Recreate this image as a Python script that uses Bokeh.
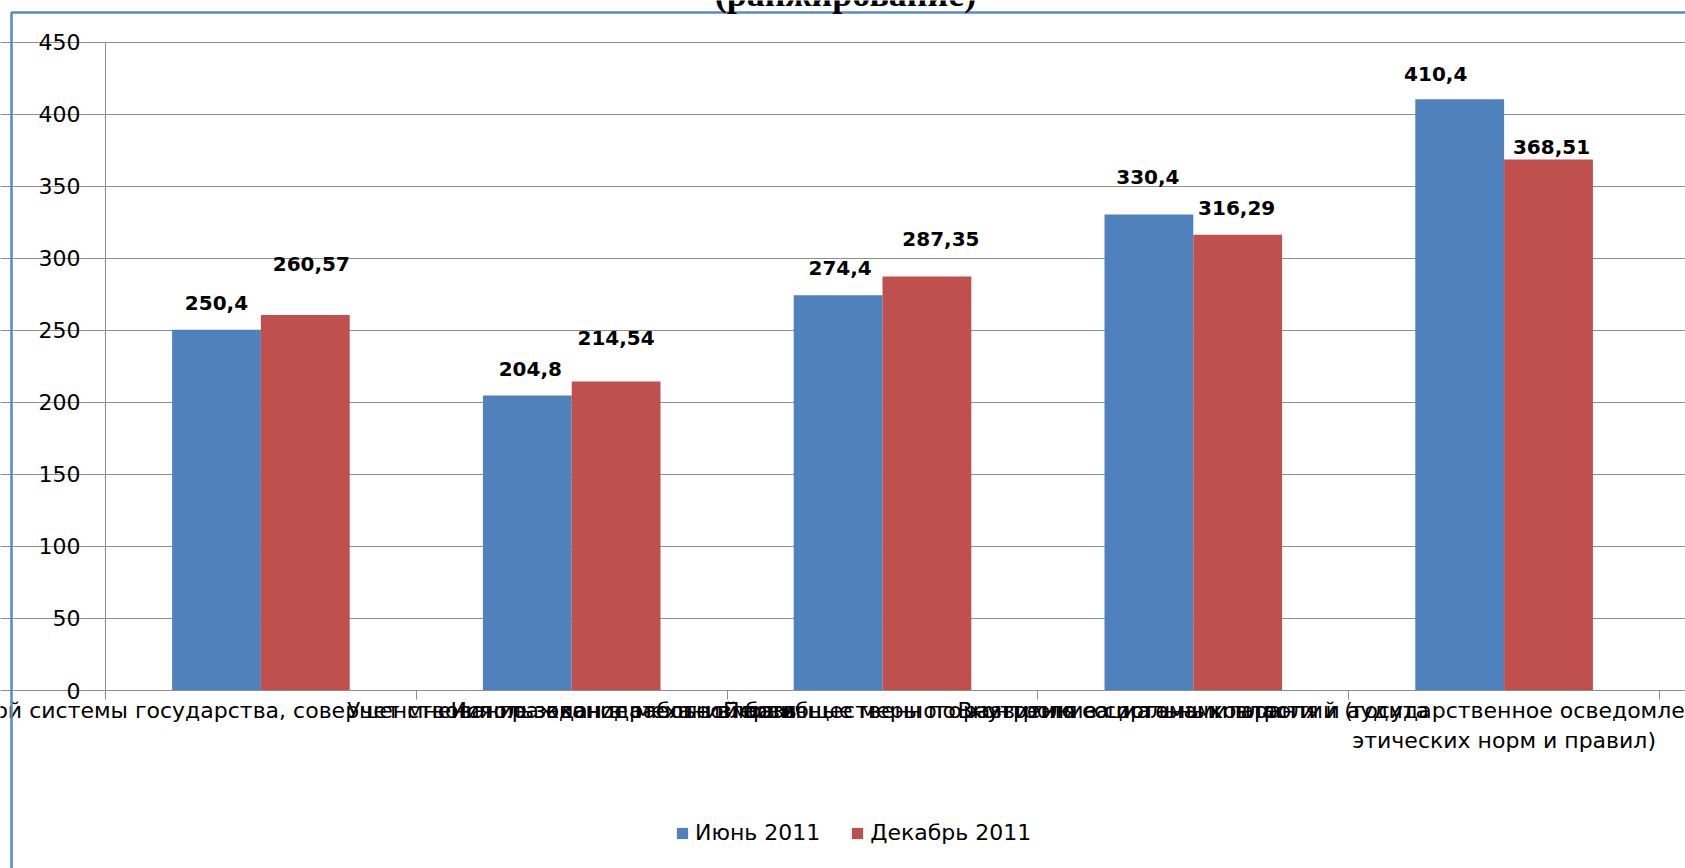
from bokeh.plotting import figure
from bokeh.models import (Range1d, FixedTicker, ColumnDataSource, Legend, LegendItem,
                          Label, BoxAnnotation)
from bokeh.core.properties import value
from bokeh.embed import file_html
from bokeh.resources import INLINE

# ---------------- data ----------------
title_text = "(ранжирование)"
categories = [
    "Эффективность правовой системы государства, совершенствование законодательной базы",
    "Учет мнения граждан в работе власти",
    "Использование механизмов общественного контроля за органами власти",
    "Внутренние системы контроля и аудита",
    "Первичные меры по развитию социальных гарантий (государственное осведомление граждан о важности соблюдения служебных и\nэтических норм и правил)",
]
series_names = ["Июнь 2011", "Декабрь 2011"]
june = [250.4, 204.8, 274.4, 330.4, 410.4]
december = [260.57, 214.54, 287.35, 316.29, 368.51]
y_ticks = [0, 50, 100, 150, 200, 250, 300, 350, 400, 450]

# ---------------- styles / layout ----------------
BLUE = "#4F81BD"
RED = "#C0504D"
GRID = "#8E8E8E"
FRAME_BLUE = "#5A8AC6"
FONT = "DejaVu Sans"
W, H = 1685, 868
PL, PR, PT, PB = 105, 1659, 41.7, 690      # plot area in canvas pixels
# manual nudges of the value labels (pixels): dx to the right, gap above bar top
june_label_dx = [0, 3, 2, -1, -24]
june_label_gap = [19, 18, 19, 30, 17]
dec_label_dx = [6, 0, 14, -1, 3]
dec_label_gap = [43, 35, 30, 19, 5]
BASELINE_FIX = 8          # renderer draws "alphabetic" text a little low

n = len(categories)
bar_w = 2 / 3.5          # Excel gap width 150 %
cat_x = [2 * i + 1 for i in range(n)]
bounds_x = [2 * i for i in range(n + 1)]
y_max = y_ticks[-1]

x_per = (PR - PL) / (2 * n)
y_per = (PB - PT) / y_max
x_range = Range1d(-PL / x_per, 2 * n + (W - PR) / x_per)
y_range = Range1d(-(H - PB) / y_per, y_max + PT / y_per)

p = figure(width=W, height=H, title=None, x_range=x_range, y_range=y_range,
           output_backend="svg", toolbar_location=None, min_border=0)
p.outline_line_color = None
p.background_fill_color = "white"
p.border_fill_color = "white"

# y axis (drawn at x = 0 inside the full-canvas frame)
ya = p.yaxis[0]
ya.fixed_location = 0
ya.bounds = (0, y_max)
ya.ticker = FixedTicker(ticks=y_ticks)
ya.axis_line_color = GRID
ya.major_tick_line_color = GRID
ya.major_tick_out = 8
ya.major_tick_in = 0
ya.minor_tick_line_color = None
ya.major_label_standoff = 17
ya.major_label_text_font = FONT
ya.major_label_text_font_size = "22px"
ya.major_label_text_color = "#000000"

# x axis: tick marks on the category boundaries
xa = p.xaxis[0]
xa.fixed_location = 0
xa.bounds = (0, 2 * n)
xa.ticker = FixedTicker(ticks=bounds_x)
xa.major_label_overrides = {b: "" for b in bounds_x}
xa.axis_line_color = GRID
xa.major_tick_line_color = GRID
xa.major_tick_out = 9
xa.major_tick_in = 0
xa.minor_tick_line_color = None

p.xgrid.visible = False
p.ygrid.ticker = FixedTicker(ticks=y_ticks)
p.ygrid.bounds = (0, 2 * n)
p.ygrid.grid_line_color = GRID
p.ygrid.grid_line_width = 1.2

src = ColumnDataSource(dict(
    xj=[c - bar_w / 2 for c in cat_x],
    xd=[c + bar_w / 2 for c in cat_x],
    june=june, dec=december,
    tj=[f"{v:g}".replace(".", ",") for v in june],
    td=[f"{v:g}".replace(".", ",") for v in december],
    dxj=june_label_dx, dyj=[-(g + BASELINE_FIX) for g in june_label_gap],
    dxd=dec_label_dx, dyd=[-(g + BASELINE_FIX) for g in dec_label_gap],
))

r1 = p.vbar(x="xj", top="june", bottom=0, width=bar_w, source=src,
            fill_color=BLUE, line_color=None)
r2 = p.vbar(x="xd", top="dec", bottom=0, width=bar_w, source=src,
            fill_color=RED, line_color=None)

for xcol, ycol, tcol, dx, dy in (("xj", "june", "tj", "dxj", "dyj"),
                                 ("xd", "dec", "td", "dxd", "dyd")):
    p.text(x=xcol, y=ycol, text=tcol, x_offset=dx, y_offset=dy, source=src,
           text_font=value(FONT), text_font_style="bold", text_font_size="20px",
           text_color="#000000", text_align="center", text_baseline="alphabetic")

# category labels under the axis (long, overlapping, cut by the picture edges)
cat_src = ColumnDataSource(dict(x=cat_x, y=[0] * n, t=categories))
p.text(x="x", y="y", text="t", source=cat_src, y_offset=7,
       text_font=value(FONT), text_font_size="22px", text_color="#000000",
       text_align="center", text_baseline="top", text_line_height=1.22)

legend = Legend(items=[LegendItem(label=series_names[0], renderers=[r1]),
                       LegendItem(label=series_names[1], renderers=[r2])],
                location=(675, 23), orientation="horizontal",
                glyph_width=14, glyph_height=14, label_standoff=6, spacing=30,
                padding=0, margin=0, border_line_color=None, background_fill_alpha=0,
                label_text_font=FONT, label_text_font_size="22px",
                label_text_color="#000000")
p.add_layout(legend, "center")

# outer chart border (only its top and left edges are inside the crop)
p.add_layout(BoxAnnotation(left=11, right=W + 2000, top=H - 12, bottom=-2000,
                           left_units="screen", right_units="screen",
                           top_units="screen", bottom_units="screen",
                           fill_alpha=0, line_color=FRAME_BLUE, line_alpha=1.0,
                           line_width=2.5))

# title, cropped at the top of the picture
p.add_layout(Label(x=845, y=H + 7, x_units="screen", y_units="screen", text=title_text,
                   text_font="Liberation Serif", text_font_style="bold",
                   text_font_size="36px", text_align="center",
                   text_baseline="alphabetic", text_color="#000000"))

open("out.html", "w").write(file_html(p, INLINE))
